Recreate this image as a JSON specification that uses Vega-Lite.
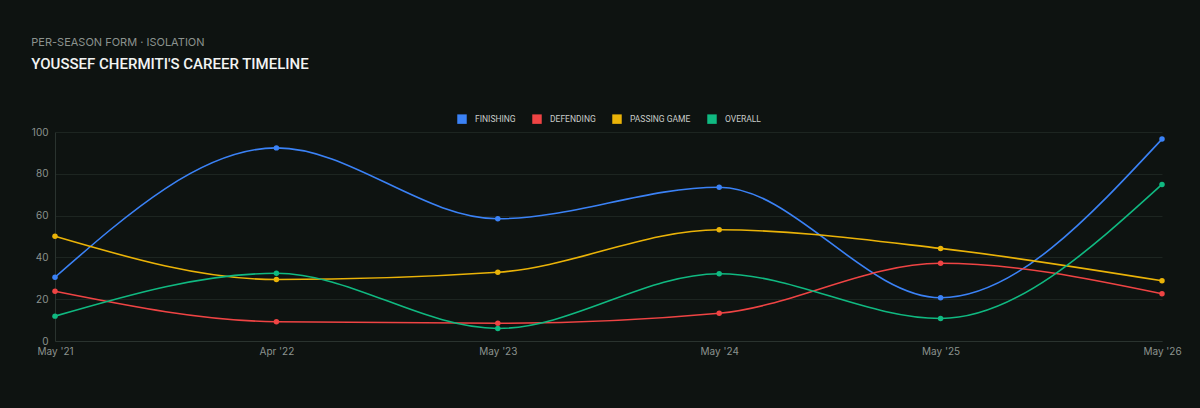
{
  "$schema": "https://vega.github.io/schema/vega-lite/v6.json",
  "autosize": {"type": "fit", "contains": "padding"},
  "width": 1200,
  "height": 408,
  "padding": {"left": 31, "top": 37, "right": 18, "bottom": 52},
  "background": "#0e1311",
  "title": {
    "text": "PER-SEASON FORM · ISOLATION",
    "subtitle": "YOUSSEF CHERMITI'S CAREER TIMELINE",
    "anchor": "start",
    "frame": "bounds",
    "font": "Inter",
    "fontSize": 11,
    "fontWeight": "normal",
    "color": "#8b928e",
    "subtitleFont": "Roboto",
    "subtitleFontSize": 15,
    "subtitleFontWeight": 500,
    "subtitleColor": "#f2f4f3",
    "subtitlePadding": 9,
    "offset": 42
  },
  "data": {
    "values": [
      {"season": "May '21", "metric": "FINISHING", "value": 30.5},
      {"season": "Apr '22", "metric": "FINISHING", "value": 92.4},
      {"season": "May '23", "metric": "FINISHING", "value": 58.5},
      {"season": "May '24", "metric": "FINISHING", "value": 73.6},
      {"season": "May '25", "metric": "FINISHING", "value": 20.7},
      {"season": "May '26", "metric": "FINISHING", "value": 96.6},
      {"season": "May '21", "metric": "DEFENDING", "value": 23.8},
      {"season": "Apr '22", "metric": "DEFENDING", "value": 9.2},
      {"season": "May '23", "metric": "DEFENDING", "value": 8.5},
      {"season": "May '24", "metric": "DEFENDING", "value": 13.3},
      {"season": "May '25", "metric": "DEFENDING", "value": 37.2},
      {"season": "May '26", "metric": "DEFENDING", "value": 22.6},
      {"season": "May '21", "metric": "PASSING GAME", "value": 50.1},
      {"season": "Apr '22", "metric": "PASSING GAME", "value": 29.4},
      {"season": "May '23", "metric": "PASSING GAME", "value": 32.9},
      {"season": "May '24", "metric": "PASSING GAME", "value": 53.2},
      {"season": "May '25", "metric": "PASSING GAME", "value": 44.3},
      {"season": "May '26", "metric": "PASSING GAME", "value": 28.8},
      {"season": "May '21", "metric": "OVERALL", "value": 11.9},
      {"season": "Apr '22", "metric": "OVERALL", "value": 32.4},
      {"season": "May '23", "metric": "OVERALL", "value": 6},
      {"season": "May '24", "metric": "OVERALL", "value": 32.2},
      {"season": "May '25", "metric": "OVERALL", "value": 10.8},
      {"season": "May '26", "metric": "OVERALL", "value": 74.9}
    ]
  },
  "encoding": {
    "x": {
      "field": "season",
      "type": "ordinal",
      "sort": null,
      "scale": {"type": "point", "padding": 0},
      "axis": {"title": null, "labelAngle": 0, "grid": false, "ticks": false, "labelPadding": 5}
    },
    "y": {
      "field": "value",
      "type": "quantitative",
      "scale": {"domain": [0, 100]},
      "axis": {"title": null, "tickCount": 5, "ticks": false, "labelPadding": 7}
    },
    "color": {
      "field": "metric",
      "type": "nominal",
      "sort": ["FINISHING", "DEFENDING", "PASSING GAME", "OVERALL"],
      "scale": {
        "domain": ["FINISHING", "DEFENDING", "PASSING GAME", "OVERALL"],
        "range": ["#3b82f6", "#ef4444", "#eab308", "#10b981"]
      },
      "legend": {
        "title": null,
        "orient": "top",
        "direction": "horizontal",
        "symbolType": "square",
        "symbolSize": 90,
        "symbolStrokeWidth": 0,
        "symbolOpacity": 1,
        "labelFont": "Roboto",
        "labelFontSize": 8.5,
        "labelColor": "#c9cdca",
        "columnPadding": 16,
        "labelOffset": 8,
        "offset": 8
      }
    }
  },
  "layer": [
    {"mark": {"type": "line", "interpolate": "monotone", "strokeWidth": 1.6}},
    {"mark": {"type": "point", "filled": true, "size": 30, "opacity": 1}}
  ],
  "config": {
    "view": {"stroke": null},
    "legend": {"layout": {"top": {"anchor": "middle"}}},
    "axis": {
      "labelColor": "#8b928e",
      "labelFont": "Inter",
      "labelFontSize": 10,
      "gridColor": "#1d2521",
      "domainColor": "#2a332f",
      "gridWidth": 1
    },
    "axisX": {"domain": true},
    "axisY": {"domain": true}
  }
}
